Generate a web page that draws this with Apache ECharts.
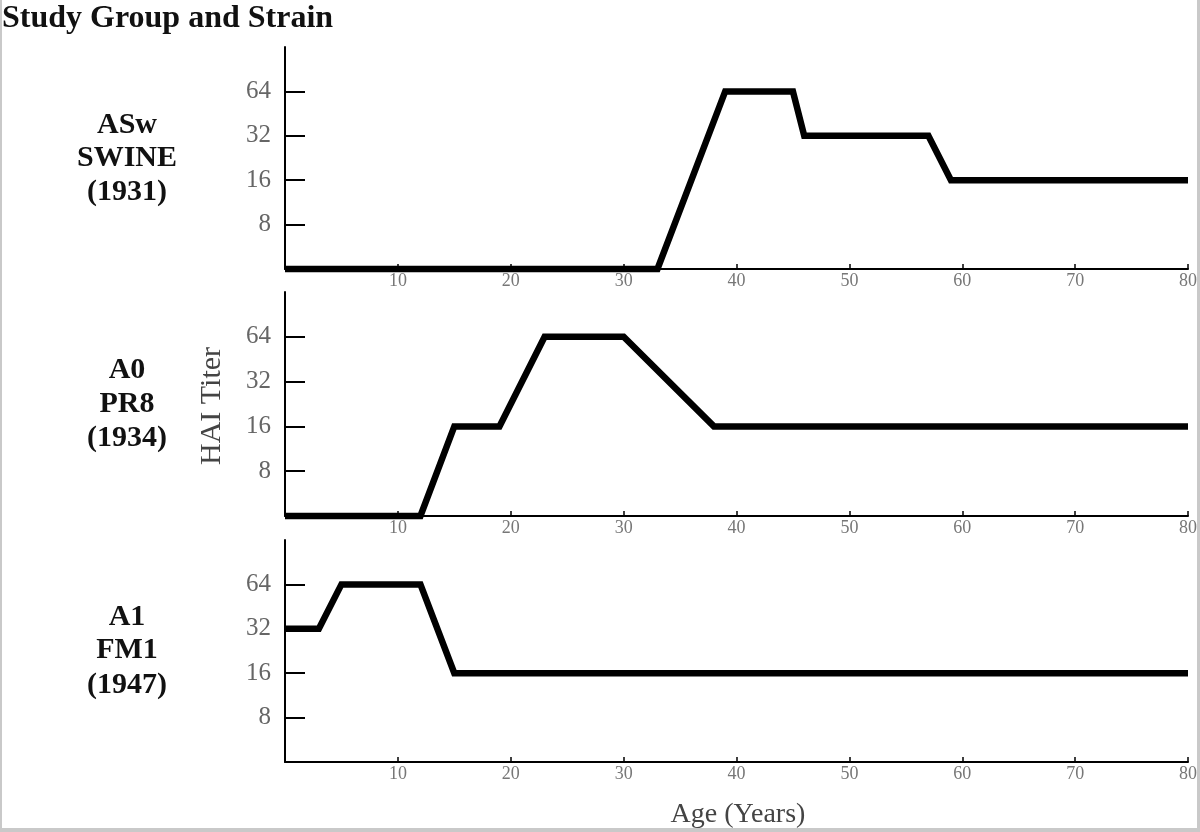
<!DOCTYPE html>
<html>
<head>
<meta charset="utf-8">
<script src="https://cdn.jsdelivr.net/npm/echarts@6/dist/echarts.min.js"></script>
<style>
html,body{margin:0;padding:0;background:#fff;}
#chart{position:absolute;left:0;top:0;width:1200px;height:832px;}
#frame{position:absolute;left:0;top:0;width:1200px;height:832px;box-sizing:border-box;border-left:2px solid #c9c9c9;border-right:3px solid #c9c9c9;border-bottom:4px solid #c9c9c9;pointer-events:none;}
</style>
</head>
<body>
<div id="chart"></div>
<div id="frame"></div>
<script>
// ---- data ----
const groupLabels = [
  ['ASw', 'SWINE', '(1931)'],
  ['A0', 'PR8', '(1934)'],
  ['A1', 'FM1', '(1947)']
];
// age (years) and HAI titer pairs; titer 4 = baseline (undetectable)
const swineAge   = [0, 33, 39, 45, 46, 57, 59, 80];
const swineTiter = [4, 4, 64, 64, 32, 32, 16, 16];
const pr8Age     = [0, 12, 15, 19, 23, 30, 38, 80];
const pr8Titer   = [4, 4, 16, 16, 64, 64, 16, 16];
const fm1Age     = [0, 3, 5, 12, 15, 80];
const fm1Titer   = [32, 32, 64, 64, 16, 16];
const yTickLabels = [8, 16, 32, 64];
const xTickLabels = [10, 20, 30, 40, 50, 60, 70, 80];

const seriesAges = [swineAge, pr8Age, fm1Age];
const seriesTiters = [swineTiter, pr8Titer, fm1Titer];

const serif = '"Liberation Serif", "DejaVu Serif", serif';
const grids = [
  {left: 285, right: 8, top: 47, height: 222},
  {left: 285, right: 8, top: 292, height: 224},
  {left: 285, right: 8, top: 540, height: 222}
];
const yTickLog = yTickLabels.map(v => Math.log2(v));

const xAxes = grids.map((g, i) => ({
  type: 'value', gridIndex: i, min: 0, max: 80, interval: 10,
  axisLine: {show: true, lineStyle: {color: '#000', width: 2}},
  axisTick: {show: true, inside: true, length: 5, lineStyle: {color: '#000', width: 1.5}},
  axisLabel: {
    show: true, color: '#777', fontFamily: serif, fontSize: 18, margin: 3,
    customValues: xTickLabels
  },
  splitLine: {show: false}
}));
const yAxes = grids.map((g, i) => ({
  type: 'value', gridIndex: i, min: 2, max: 7, interval: 1,
  axisLine: {show: true, lineStyle: {color: '#000', width: 2}},
  axisTick: {show: true, inside: true, length: 20, lineStyle: {color: '#000', width: 2}, customValues: yTickLog},
  axisLabel: {
    show: true, color: '#666', fontFamily: serif, fontSize: 25, margin: 14,
    customValues: yTickLog,
    formatter: v => String(Math.round(Math.pow(2, v)))
  },
  splitLine: {show: false}
}));
const series = seriesAges.map((ages, i) => ({
  type: 'line', xAxisIndex: i, yAxisIndex: i,
  data: ages.map((a, k) => [a, Math.log2(seriesTiters[i][k])]),
  symbol: 'none', clip: false,
  lineStyle: {color: '#000', width: 6.5, join: 'miter'},
  z: 5
}));

const graphics = [];
graphics.push({type: 'text', left: 2, top: 3, style: {text: 'Study Group and Strain', font: 'bold 32px ' + serif, fill: '#111'}});
const labelYs = [[125, 158, 192], [370, 404, 438], [617, 650, 685]];
groupLabels.forEach((lines, i) => {
  lines.forEach((t, k) => {
    graphics.push({type: 'text', x: 127, y: labelYs[i][k],
      style: {text: t, font: 'bold 30px ' + serif, fill: '#111', align: 'center', verticalAlign: 'middle'}});
  });
});
graphics.push({type: 'text', x: 212, y: 406, rotation: Math.PI / 2,
  style: {text: 'HAI Titer', font: '30px ' + serif, fill: '#444', align: 'center', verticalAlign: 'middle'}});
graphics.push({type: 'text', x: 738, y: 815,
  style: {text: 'Age (Years)', font: '28px ' + serif, fill: '#444', align: 'center', verticalAlign: 'middle'}});

const chart = echarts.init(document.getElementById('chart'));
chart.setOption({
  animation: false,
  backgroundColor: '#fff',
  grid: grids,
  xAxis: xAxes,
  yAxis: yAxes,
  series: series,
  graphic: graphics
});
</script>
</body>
</html>
